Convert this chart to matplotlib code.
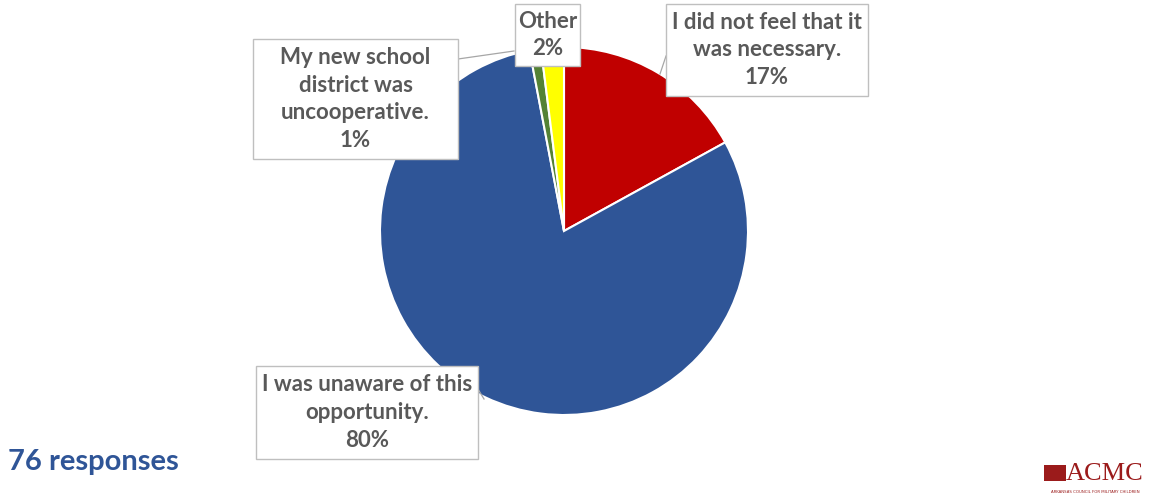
import matplotlib.pyplot as plt
from matplotlib.patches import Rectangle

# data
labels = ["I did not feel that it\nwas necessary.",
          "I was unaware of this\nopportunity.",
          "My new school\ndistrict was\nuncooperative.",
          "Other"]
values = [17, 80, 1, 2]
colors = ["#C00000", "#2F5597", "#548235", "#FFFF00"]
n_responses = 76

W, H = 1150, 502
fig = plt.figure(figsize=(W / 100, H / 100), dpi=100)
ax = fig.add_axes([0, 0, 1, 1])

cx, cy, r = 564, H - 232, 184
ax.pie(values, colors=colors, startangle=90, counterclock=False,
       center=(cx, cy), radius=r, frame=True,
       wedgeprops=dict(edgecolor="white", linewidth=1.5))
ax.set_xlim(0, W)
ax.set_ylim(0, H)
ax.set_aspect("equal")
ax.axis("off")

# label boxes: (x0, y0_img, x1, y1_img), leader line (img coords)
boxes = [
    ((666, 5, 868, 97), [(666, 57), (660, 75)]),
    ((256, 367, 478, 460), [(478, 390), (484, 400)]),
    ((253, 40, 458, 160), [(458, 60), (514, 52)]),
    ((515, 5, 580, 67), None),
]
txtcol = "#595959"
for (lab, v, (box, lead)) in zip(labels, values, boxes):
    x0, y0, x1, y1 = box
    if lead is not None:
        ax.plot([p[0] for p in lead], [H - p[1] for p in lead],
                color="#A6A6A6", lw=0.9, zorder=4)
    ax.add_patch(Rectangle((x0, H - y1), x1 - x0, y1 - y0, facecolor="white",
                           edgecolor="#BFBFBF", lw=1, zorder=5))
    ax.text((x0 + x1) / 2, H - (y0 + y1) / 2 + 1, "{}\n{}%".format(lab, v),
            ha="center", va="center", fontsize=16, fontweight="bold",
            family="Lato", color=txtcol, linespacing=1.4, zorder=6)

ax.text(8, H - 462, "{} responses".format(n_responses), ha="left", va="center",
        fontsize=21, fontweight="bold", family="Lato", color="#2F5597")

# logo
ax.add_patch(Rectangle((1044, H - 482), 22, 16, facecolor="#9B1B1B", edgecolor="none"))
ax.text(1066, H - 474, "ACMC", ha="left", va="center", fontsize=19,
        family="Liberation Serif", color="#9B1B1B")
ax.text(1095, H - 492, "ARKANSAS COUNCIL FOR MILITARY CHILDREN", ha="center",
        va="center", fontsize=2.8, color="#9B1B1B")

plt.savefig("out.png", dpi=100)
